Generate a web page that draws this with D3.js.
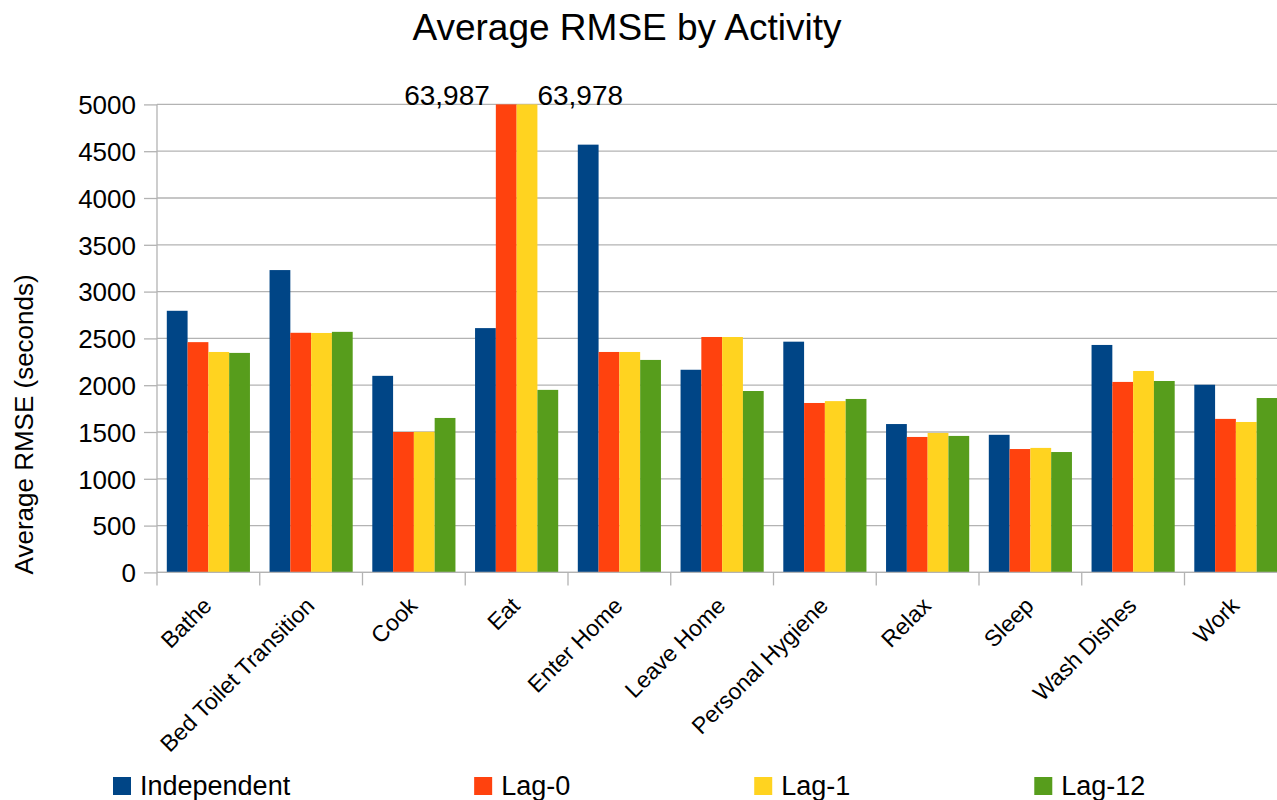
<!DOCTYPE html>
<html>
<head>
<meta charset="utf-8">
<script src="https://cdn.jsdelivr.net/npm/d3@7"></script>
<style>
  html, body { margin: 0; padding: 0; background: #fff; }
  svg { display: block; font-family: "Liberation Sans", Arial, sans-serif; }
</style>
</head>
<body>
<svg id="chart" width="1277" height="800"></svg>
<script>
// Activities along the x axis
const categories = ["Bathe", "Bed Toilet Transition", "Cook", "Eat", "Enter Home",
  "Leave Home", "Personal Hygiene", "Relax", "Sleep", "Wash Dishes", "Work"];

// Series names, in legend order
const seriesNames = ["Independent", "Lag-0", "Lag-1", "Lag-12"];

// Average RMSE (seconds) per activity, one array per series
const independent = [2795, 3230, 2100, 2610, 4570, 2165, 2465, 1585, 1470, 2430, 2005];
const lag0        = [2460, 2560, 1500, 63987, 2355, 2515, 1810, 1447, 1318, 2035, 1640];
const lag1        = [2355, 2558, 1502, 63978, 2355, 2515, 1830, 1490, 1330, 2152, 1607];
const lag12       = [2345, 2570, 1650, 1950, 2270, 1938, 1853, 1458, 1286, 2045, 1863];

// Y axis tick values
const yTicks = [0, 500, 1000, 1500, 2000, 2500, 3000, 3500, 4000, 4500, 5000];

const seriesValues = [independent, lag0, lag1, lag12];
const colors = ["#004586", "#ff420e", "#ffd320", "#579d1c"];

const svg = d3.select("#chart");
const W = 1277, H = 800;
svg.append("rect").attr("width", W).attr("height", H).attr("fill", "#fff");

const plot = { left: 157, top: 104.4, bottom: 572.4 };
const band = 102.75;

const x = d3.scaleBand()
  .domain(categories)
  .range([plot.left, plot.left + band * categories.length])
  .padding(0);

const xInner = d3.scaleBand()
  .domain(seriesNames)
  .range([9.8, band - 9.8])
  .padding(0);

const y = d3.scaleLinear()
  .domain([0, 5000])
  .range([plot.bottom, plot.top])
  .clamp(true);

const gridColor = "#b3b3b3";

// Horizontal gridlines
svg.append("g")
  .selectAll("line")
  .data(yTicks)
  .join("line")
  .attr("x1", plot.left).attr("x2", W)
  .attr("y1", d => y(d)).attr("y2", d => y(d))
  .attr("stroke", gridColor).attr("stroke-width", 1.3);

// Y axis
const yAxis = d3.axisLeft(y)
  .tickValues(yTicks)
  .tickSize(13)
  .tickPadding(8)
  .tickFormat(d3.format("d"));

const gy = svg.append("g")
  .attr("transform", `translate(${plot.left},0)`)
  .call(yAxis);
gy.select(".domain").attr("stroke", gridColor).attr("stroke-width", 1.3)
  .attr("d", `M0,${plot.top}V${plot.bottom}`);
gy.selectAll(".tick line").attr("stroke", gridColor).attr("stroke-width", 1.3);
gy.selectAll(".tick text")
  .attr("fill", "#000")
  .style("font-size", "26px")
  .style("font-family", "'Liberation Sans', Arial, sans-serif")
  .attr("dy", "0.36em");

// Bars
const groups = svg.append("g")
  .selectAll("g")
  .data(categories)
  .join("g")
  .attr("transform", d => `translate(${x(d)},0)`);

groups.selectAll("rect")
  .data((c, i) => seriesNames.map((s, k) => ({ series: s, k, value: seriesValues[k][i] })))
  .join("rect")
  .attr("x", d => xInner(d.series))
  .attr("width", xInner.bandwidth())
  .attr("y", d => y(d.value))
  .attr("height", d => y(0) - y(d.value))
  .attr("fill", d => colors[d.k]);

// X axis
const xAxisG = svg.append("g");
xAxisG.append("line")
  .attr("x1", plot.left).attr("x2", W)
  .attr("y1", plot.bottom).attr("y2", plot.bottom)
  .attr("stroke", gridColor).attr("stroke-width", 1.3);
xAxisG.selectAll("line.tick")
  .data(categories)
  .join("line")
  .attr("class", "tick")
  .attr("x1", d => x(d)).attr("x2", d => x(d))
  .attr("y1", plot.bottom).attr("y2", plot.bottom + 13)
  .attr("stroke", gridColor).attr("stroke-width", 1.3);

xAxisG.selectAll("text")
  .data(categories)
  .join("text")
  .attr("transform", d => `translate(${x(d) + band / 2 - 1},${plot.bottom + 29}) rotate(-45)`)
  .attr("text-anchor", "end")
  .attr("dy", "0.35em")
  .style("font-size", "23px")
  .attr("fill", "#000")
  .text(d => d);

// Value labels for bars that run past the top of the axis
const maxY = y.domain()[1];
categories.forEach((c, i) => {
  seriesNames.forEach((s, k) => {
    const v = seriesValues[k][i];
    if (v > maxY) {
      const bx = x(c) + xInner(s);
      const leftSide = k < seriesNames.length / 2;
      svg.append("text")
        .attr("x", leftSide ? bx - 6 : bx + xInner.bandwidth())
        .attr("y", plot.top + 1)
        .attr("text-anchor", leftSide ? "end" : "start")
        .style("font-size", "28px")
        .attr("fill", "#000")
        .text(d3.format(",")(v));
    }
  });
});

// Title
svg.append("text")
  .attr("x", 627).attr("y", 40)
  .attr("text-anchor", "middle")
  .style("font-size", "37px")
  .attr("fill", "#000")
  .text("Average RMSE by Activity");

// Y axis title
svg.append("text")
  .attr("transform", `translate(33,${(plot.top + plot.bottom) / 2 + 86}) rotate(-90)`)
  .attr("text-anchor", "middle")
  .style("font-size", "26px")
  .attr("fill", "#000")
  .text("Average RMSE (seconds)");

// Legend
const legend = svg.append("g");
let lx = 113;
const legendGap = 184;
seriesNames.forEach((s, k) => {
  const g = legend.append("g").attr("transform", `translate(${lx},0)`);
  g.append("rect")
    .attr("x", 0).attr("y", 777)
    .attr("width", 18).attr("height", 18)
    .attr("fill", colors[k]);
  const t = g.append("text")
    .attr("x", 27).attr("y", 795)
    .style("font-size", "27px")
    .attr("fill", "#000")
    .text(s);
  lx += 27 + t.node().getComputedTextLength() + legendGap;
});
</script>
</body>
</html>
